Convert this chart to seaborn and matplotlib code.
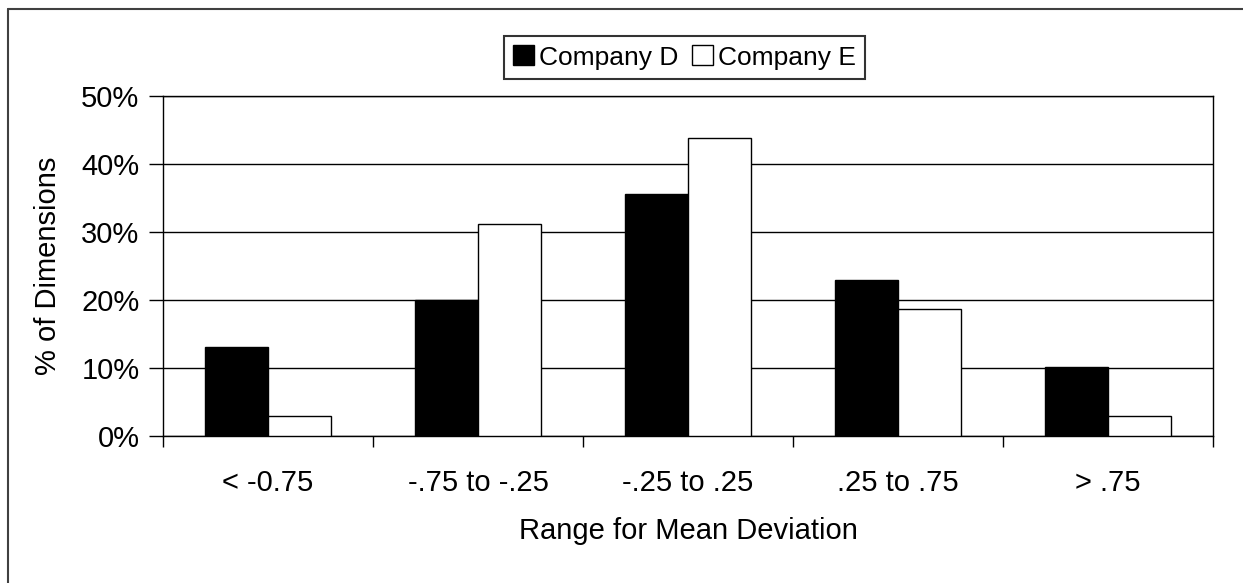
import matplotlib
matplotlib.use("Agg")
import matplotlib.pyplot as plt
from matplotlib.lines import Line2D
import seaborn as sns
import pandas as pd

categories = ["< -0.75", "-.75 to -.25", "-.25 to .25", ".25 to .75", "> .75"]
company_d = [13.1, 20.0, 35.6, 23.0, 10.2]
company_e = [3.0, 31.2, 43.8, 18.7, 3.0]
series_names = ["Company D", "Company E"]
yticks = [0, 10, 20, 30, 40, 50]
ytick_labels = ["0%", "10%", "20%", "30%", "40%", "50%"]

df = pd.DataFrame({
    "Range": categories * 2,
    "Pct": company_d + company_e,
    "Company": [series_names[0]] * len(categories) + [series_names[1]] * len(categories),
})

sns.set_theme(style="white")
plt.rcParams["font.family"] = ["Liberation Sans", "DejaVu Sans"]
plt.rcParams["text.color"] = "black"
plt.rcParams["axes.labelcolor"] = "black"
plt.rcParams["xtick.color"] = "black"
plt.rcParams["ytick.color"] = "black"

fig = plt.figure(figsize=(12.43, 5.83), dpi=100)
ax = fig.add_axes([163 / 1243, 1 - 436 / 583, (1213 - 163) / 1243, (436 - 96) / 583])

sns.barplot(data=df, x="Range", y="Pct", hue="Company", order=categories,
            hue_order=series_names, palette=["black", "white"], width=0.6,
            edgecolor="black", linewidth=1.0, ax=ax, zorder=3, saturation=1)

ax.set_ylim(0, 50)
ax.set_xlim(-0.5, len(categories) - 0.5)
ax.set_yticks(yticks)
ax.set_yticklabels(ytick_labels, fontsize=21)
ax.yaxis.grid(True, color="black", linewidth=1.0, zorder=0)
ax.set_axisbelow(True)

ax.set_xticks(range(len(categories)))
ax.set_xticklabels(categories, fontsize=21)
ax.set_xticks([i - 0.5 for i in range(len(categories) + 1)], minor=True)
ax.tick_params(axis="x", which="major", length=0, pad=24, labelcolor="black")
ax.tick_params(axis="x", which="minor", length=8, width=1, color="black", direction="out", bottom=True)
ax.tick_params(axis="y", which="major", length=10, width=1, color="black", direction="out",
               left=True, pad=7, labelcolor="black")

for s in ax.spines.values():
    s.set_color("black")
    s.set_linewidth(1.0)

ax.set_xlabel("Range for Mean Deviation", fontsize=21, labelpad=14, color="black")
ax.set_ylabel("% of Dimensions", fontsize=21, labelpad=14, color="black")

ax.legend_.remove()
handles = [plt.Rectangle((0, 0), 1, 1, facecolor="black", edgecolor="black"),
           plt.Rectangle((0, 0), 1, 1, facecolor="white", edgecolor="black")]
leg = fig.legend(handles, series_names, loc="upper center",
                 bbox_to_anchor=(684.5 / 1243, 1 - 36 / 583), ncol=2,
                 fontsize=19, frameon=True, fancybox=False, shadow=False,
                 handlelength=0.8, handleheight=0.8, handletextpad=0.2,
                 columnspacing=0.5, borderpad=0.35, borderaxespad=0)
leg.get_frame().set_edgecolor("black")
leg.get_frame().set_linewidth(1.5)
for t in leg.get_texts():
    t.set_color("black")

fig.add_artist(Line2D([8 / 1243, 8 / 1243], [0, 1 - 9 / 583], transform=fig.transFigure,
                      color="#404040", linewidth=1.5))
fig.add_artist(Line2D([8 / 1243, 1], [1 - 9 / 583, 1 - 9 / 583], transform=fig.transFigure,
                      color="#404040", linewidth=1.5))

fig.savefig("out.png", dpi=100, facecolor="white")
